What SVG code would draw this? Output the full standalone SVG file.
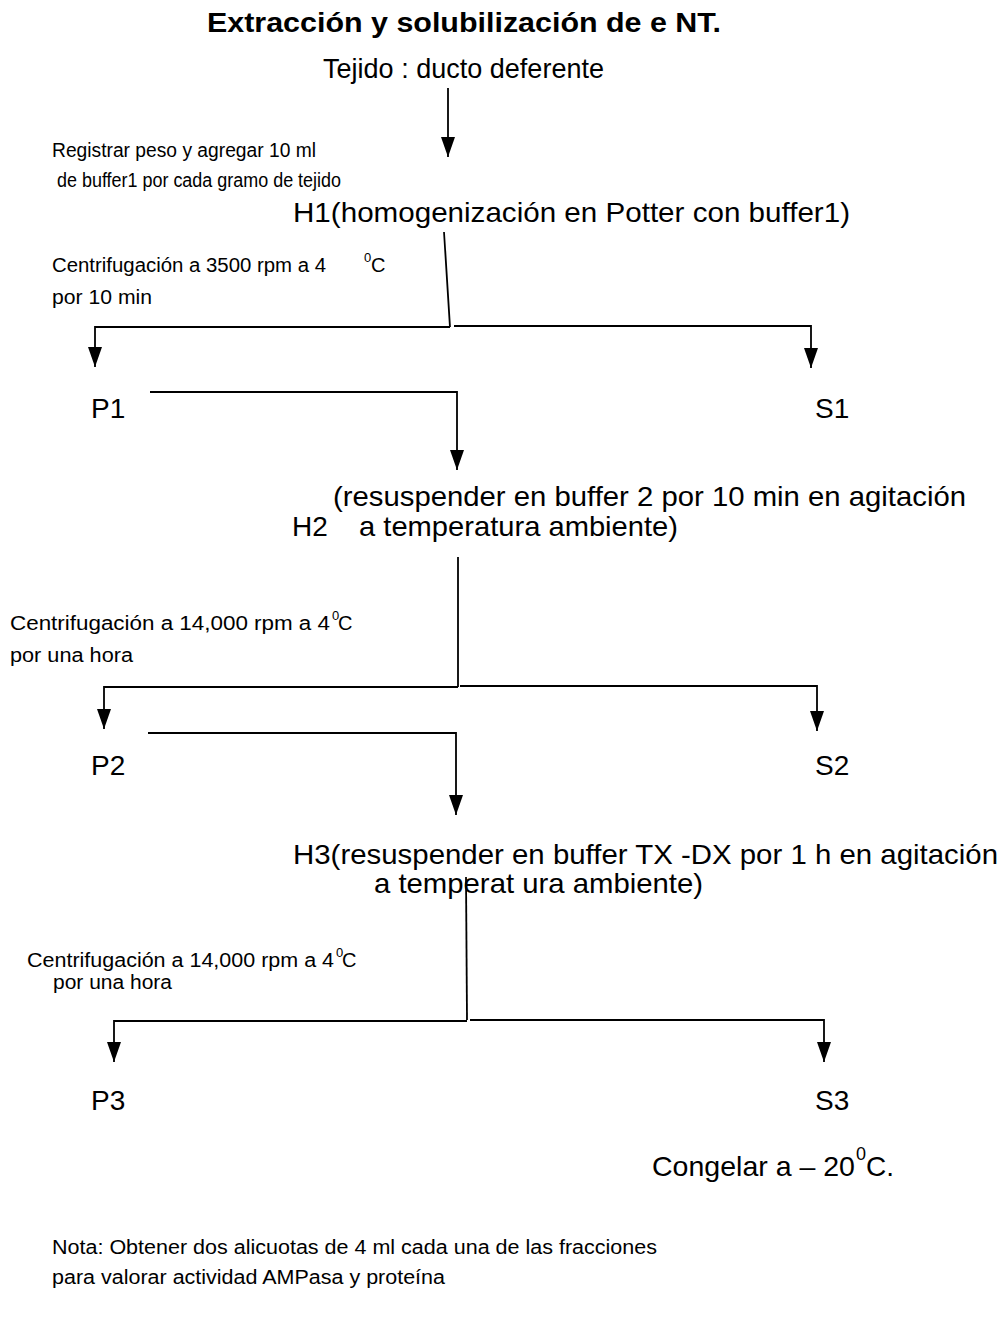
<svg xmlns="http://www.w3.org/2000/svg" width="1004" height="1320" viewBox="0 0 1004 1320">
<style>
text{font-family:"Liberation Sans",Arial,sans-serif;fill:#000}
.title{font-size:27px;font-weight:bold}
.main{font-size:28px}
.small{font-size:20px}
.sup{font-size:13px}
.supm{font-size:18px}
.conn line,.conn polyline{stroke:#000;stroke-width:1.8;fill:none}
</style>
<defs>
<marker id="ah" viewBox="0 0 20 14" refX="20" refY="7" markerWidth="20" markerHeight="14" markerUnits="userSpaceOnUse" orient="auto">
<path d="M0,0 L20,7 L0,14 z" fill="#000"/>
</marker>
</defs>
<rect width="1004" height="1320" fill="#fff"/>
<g id="title"><text class="title" x="207" y="32" textLength="514" lengthAdjust="spacingAndGlyphs">Extracción y solubilización de  e NT.</text></g>
<g id="tejido"><text class="main" x="323" y="78" textLength="281" lengthAdjust="spacingAndGlyphs">Tejido : ducto deferente</text></g>
<g id="note1"><text class="small" x="52" y="157" textLength="264" lengthAdjust="spacingAndGlyphs">Registrar peso y agregar 10 ml</text>
<text class="small" x="57" y="187" textLength="284" lengthAdjust="spacingAndGlyphs">de buffer1 por cada gramo de tejido</text></g>
<g id="H1"><text class="main" x="293" y="222" textLength="557" lengthAdjust="spacingAndGlyphs">H1(homogenización en Potter con buffer1)</text></g>
<g id="centrif1"><text class="small" x="52" y="272" textLength="274" lengthAdjust="spacingAndGlyphs">Centrifugación a 3500 rpm a 4</text>
<text class="sup" x="364" y="262">0</text><text class="small" x="371" y="272">C</text>
<text class="small" x="52" y="304" textLength="100" lengthAdjust="spacingAndGlyphs">por 10 min</text></g>
<g id="P1"><text class="main" x="91" y="418">P1</text></g>
<g id="S1"><text class="main" x="815" y="418">S1</text></g>
<g id="H2"><text class="main" x="333" y="506" textLength="633" lengthAdjust="spacingAndGlyphs">(resuspender en buffer 2 por 10 min en agitación</text>
<text class="main" x="292" y="536">H2</text>
<text class="main" x="359" y="536" textLength="319" lengthAdjust="spacingAndGlyphs">a temperatura ambiente)</text></g>
<g id="centrif2"><text class="small" x="10" y="630" textLength="320" lengthAdjust="spacingAndGlyphs">Centrifugación  a 14,000 rpm a 4</text>
<text class="sup" x="332" y="620">0</text><text class="small" x="338" y="630">C</text>
<text class="small" x="10" y="662" textLength="123" lengthAdjust="spacingAndGlyphs">por una hora</text></g>
<g id="P2"><text class="main" x="91" y="775">P2</text></g>
<g id="S2"><text class="main" x="815" y="775">S2</text></g>
<g id="H3"><text class="main" x="293" y="864" textLength="705" lengthAdjust="spacingAndGlyphs">H3(resuspender en buffer TX -DX por 1 h en agitación</text>
<text class="main" x="374" y="893" textLength="329" lengthAdjust="spacingAndGlyphs">a temperat ura ambiente)</text></g>
<g id="centrif3"><text class="small" x="27" y="967" textLength="307" lengthAdjust="spacingAndGlyphs">Centrifugación a 14,000 rpm a 4</text>
<text class="sup" x="336" y="957">0</text><text class="small" x="342" y="967">C</text>
<text class="small" x="53" y="989" textLength="119" lengthAdjust="spacingAndGlyphs">por una hora</text></g>
<g id="P3"><text class="main" x="91" y="1110">P3</text></g>
<g id="S3"><text class="main" x="815" y="1110">S3</text></g>
<g id="congelar"><text class="main" x="652" y="1176" textLength="203" lengthAdjust="spacingAndGlyphs">Congelar a  – 20</text>
<text class="supm" x="856" y="1160">0</text><text class="main" x="866" y="1176">C.</text></g>
<g id="nota"><text class="small" x="52" y="1254" textLength="605" lengthAdjust="spacingAndGlyphs">Nota: Obtener dos alicuotas de 4 ml cada una de las fracciones</text>
<text class="small" x="52" y="1284" textLength="393" lengthAdjust="spacingAndGlyphs">para valorar actividad AMPasa y proteína</text></g>
<g id="connectors" class="conn">
<line x1="448" y1="88" x2="448" y2="157" marker-end="url(#ah)"/>
<line x1="444" y1="232" x2="450" y2="327"/>
<polyline points="450,327 95,327 95,367" marker-end="url(#ah)"/>
<polyline points="454,326 811,326 811,368" marker-end="url(#ah)"/>
<polyline points="150,392 457,392 457,470" marker-end="url(#ah)"/>
<line x1="458" y1="557" x2="458" y2="687"/>
<polyline points="458,687 104,687 104,729" marker-end="url(#ah)"/>
<polyline points="460,686 817,686 817,731" marker-end="url(#ah)"/>
<polyline points="148,733 456,733 456,815" marker-end="url(#ah)"/>
<line x1="466" y1="877" x2="467" y2="1020"/>
<polyline points="467,1021 114,1021 114,1062" marker-end="url(#ah)"/>
<polyline points="470,1020 824,1020 824,1062" marker-end="url(#ah)"/>
</g>
</svg>
